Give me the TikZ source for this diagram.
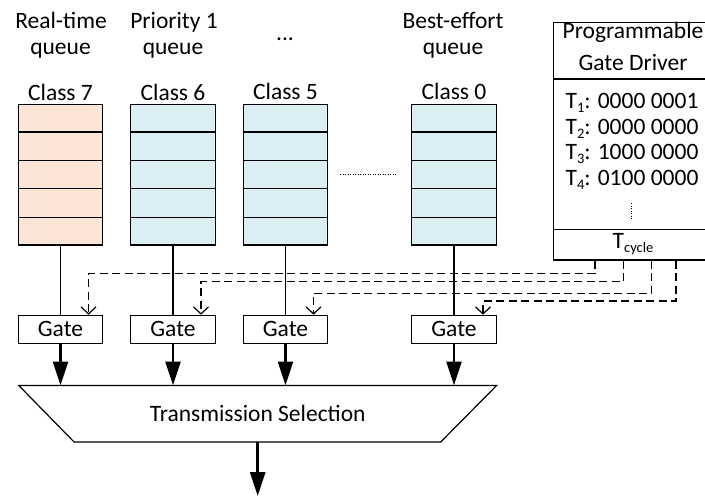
\documentclass[tikz,border=0pt]{standalone}
\usepackage{fontspec}
\setmainfont{Carlito}
\usetikzlibrary{arrows.meta,calc}
\newcommand{\lowidx}[1]{\raisebox{-0.4ex}{\fontsize{14.5}{14.5}\selectfont #1}}
\definecolor{rtfill}{HTML}{FBE5D6}
\definecolor{qfill}{HTML}{DAEEF3}

\begin{document}
\begin{tikzpicture}[x=1pt,y=-1pt,
  font=\fontsize{23.5}{25.5}\selectfont,
  box/.style={draw, line width=1.2pt, inner sep=0pt},
  queuebox/.style={box, minimum width=84.5pt, minimum height=140.7pt},
  gatebox/.style={box, fill=white, minimum width=84.5pt, minimum height=28pt},
  feed/.style={line width=1.1pt},
  ctrl/.style={line width=1.2pt, dash pattern=on 8pt off 4.5pt,
    -{Straight Barb[length=7pt,width=15pt,line width=1.2pt]}},
  bigarrow/.style={line width=2.8pt, -{Triangle[length=24pt,width=15pt]}},
  txt/.style={inner sep=0pt, anchor=base},
  fine/.style={line width=1pt, dash pattern=on 1pt off 1.5pt}
]
\useasboundingbox (0,0) rectangle (705,496);

% queue headers
\node[txt] (h7a) at (61,28.5) {Real-time};
\node[txt] (h7b) at (60.5,54) {queue};
\node[txt] (h6a) at (174,28.5) {Priority 1};
\node[txt] (h6b) at (173,54) {queue};
\node[txt] (h5) at (285,40) {...};
\node[txt] (h0a) at (453,28.5) {Best-effort};
\node[txt] (h0b) at (453,54) {queue};

% class labels
\node[txt] (c7) at (60.5,100) {Class 7};
\node[txt] (c6) at (173,100) {Class 6};
\node[txt] (c5) at (285.5,99) {Class 5};
\node[txt] (c0) at (454,99) {Class 0};

% queues with five slots each
\node[queuebox, fill=rtfill] (q7) at (60.5,174.6) {};
\node[queuebox, fill=qfill] (q6) at (173,174.6) {};
\node[queuebox, fill=qfill] (q5) at (285.5,174.6) {};
\node[queuebox, fill=qfill] (q0) at (454,174.6) {};
\foreach \q in {q7,q6,q5,q0}
  \foreach \k in {1,...,4}
    \draw[line width=1.2pt] ($(\q.north west)!\k/5!(\q.south west)$) -- ($(\q.north east)!\k/5!(\q.south east)$);

\draw[fine] ([xshift=12pt]q5.east) -- ([xshift=-15pt]q0.west);

% gate driver
\node[box, minimum width=160pt, minimum height=237.3pt, anchor=north west] (drv) at (553,22) {};
\draw[line width=1.2pt] ([yshift=-57pt]drv.north west) -- ([yshift=-57pt]drv.north east);
\draw[line width=1.2pt] ([yshift=31.3pt]drv.south west) -- ([yshift=31.3pt]drv.south east);
\node[txt] (p1) at (633,38.5) {Programmable};
\node[txt] (p2) at (633,70) {Gate Driver};
\node[txt] (t1) at (632,108.5) {T\lowidx{1}: 0000 0001};
\node[txt] (t2) at (632,134) {T\lowidx{2}: 0000 0000};
\node[txt] (t3) at (632,159.5) {T\lowidx{3}: 1000 0000};
\node[txt] (t4) at (632,185) {T\lowidx{4}: 0100 0000};
\draw[fine] (631,203) -- (631,219);
\node[txt] (tc) at (633,248) {T\lowidx{cycle}};

% gates
\node[gatebox] (g7) at (60.5,329.3) {Gate};
\node[gatebox] (g6) at (173,329.3) {Gate};
\node[gatebox] (g5) at (285.5,329.3) {Gate};
\node[gatebox] (g0) at (454,329.3) {Gate};

\foreach \q/\g in {q7/g7,q6/g6,q5/g5,q0/g0}
  \draw[feed] (\q.south) -- (\g.north);

% gate control lines
\coordinate (d1) at (595,0);
\coordinate (d2) at (623.3,0);
\coordinate (d3) at (651.7,0);
\coordinate (d4) at (676,0);
\coordinate (l1) at (0,273.3);
\coordinate (l2) at (0,281.7);
\coordinate (l3) at (0,293.3);
\coordinate (l4) at (0,301);
\coordinate (e7) at ([xshift=28pt]g7.north);
\coordinate (e6) at ([xshift=28pt]g6.north);
\coordinate (e5) at ([xshift=28pt]g5.north);
\coordinate (e0) at ([xshift=29pt]g0.north);
\draw[ctrl] (drv.south -| d1) |- (e7 |- l1) -- (e7);
\draw[ctrl] (drv.south -| d2) |- (e6 |- l2) -- (e6);
\draw[ctrl] (drv.south -| d3) |- (e5 |- l3) -- (e5);
\draw[ctrl] (drv.south -| d4) |- (e0 |- l4) -- (e0);

% transmission selection
\node[inner sep=0pt, minimum width=477.4pt, minimum height=56pt] (sel) at (257.7,413.7) {Transmission Selection};
\draw[line width=1.2pt] (sel.north west) -- (sel.north east)
  -- ([xshift=-55.8pt]sel.south east) -- ([xshift=55.2pt]sel.south west) -- cycle;

\foreach \g in {g7,g6,g5,g0}
  \draw[bigarrow] (\g.south) -- (\g.south |- sel.north);

\coordinate (sink) at (257.7,496);
\draw[bigarrow] (sel.south) -- (sink);
\end{tikzpicture}
\end{document}
